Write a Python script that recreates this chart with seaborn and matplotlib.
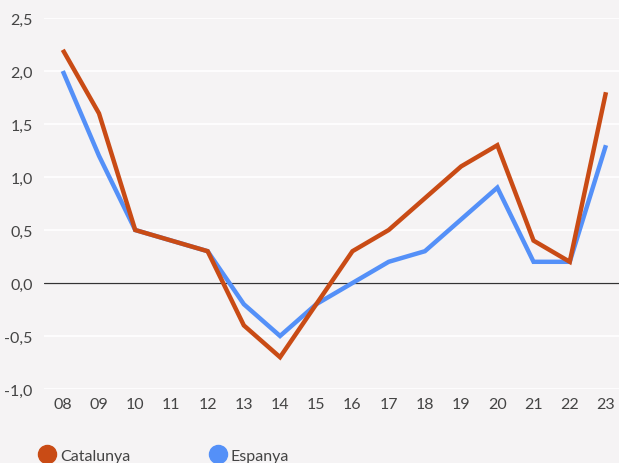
import matplotlib
matplotlib.use("Agg")
import matplotlib.pyplot as plt
import seaborn as sns
import pandas as pd
from matplotlib.lines import Line2D

years = ["08", "09", "10", "11", "12", "13", "14", "15", "16", "17", "18", "19", "20", "21", "22", "23"]
catalunya = [2.2, 1.6, 0.5, 0.4, 0.3, -0.4, -0.7, -0.2, 0.3, 0.5, 0.8, 1.1, 1.3, 0.4, 0.2, 1.8]
espanya = [2.0, 1.2, 0.5, 0.4, 0.3, -0.2, -0.5, -0.2, 0.0, 0.2, 0.3, 0.6, 0.9, 0.2, 0.2, 1.3]
series_names = ["Catalunya", "Espanya"]
colors = ["#C94B15", "#5490F8"]
yticks = [-1.0, -0.5, 0.0, 0.5, 1.0, 1.5, 2.0, 2.5]

sns.set_theme(style="white")
plt.rcParams['font.family'] = ['Lato', 'DejaVu Sans']

df = pd.DataFrame({
    "x": list(range(len(years))) * 2,
    "value": catalunya + espanya,
    "serie": [series_names[0]] * len(years) + [series_names[1]] * len(years),
})

bg = "#F5F3F4"
fig = plt.figure(figsize=(6.19, 4.64), dpi=100, facecolor=bg)
ax = fig.add_axes([0.071, 0.1595, 0.929, 0.7995], facecolor=bg)

for y in yticks:
    ax.axhline(y, color="white", lw=1.2, zorder=0)
ax.axhline(0, color="#333333", lw=0.9, zorder=1)

sns.lineplot(data=df, x="x", y="value", hue="serie", hue_order=series_names,
             palette=colors, lw=3.2, legend=False, ax=ax, sort=False,
             solid_capstyle="butt", solid_joinstyle="miter")
for ln in ax.get_lines():
    if matplotlib.colors.to_hex(ln.get_color()).lower() == colors[0].lower():
        ln.set_zorder(3)

ax.set_xlim(-0.52, 15.36)
ax.set_ylim(-1.0, 2.5)
ax.set_xticks(range(len(years)))
ax.set_xticklabels(years)
ax.set_yticks(yticks)
ax.set_yticklabels([f"{v:.1f}".replace(".", ",") for v in yticks])
ax.tick_params(axis="both", length=0, labelsize=11.5, colors="#444444")
ax.tick_params(axis="x", pad=6)
ax.tick_params(axis="y", pad=8)
for s in ax.spines.values():
    s.set_visible(False)
ax.set_xlabel("")
ax.set_ylabel("")

handles = [Line2D([0], [0], marker="o", color="none", markerfacecolor=c, markeredgecolor=c,
                  markersize=13) for c in colors]
fig.legend(handles, series_names, loc="lower left", bbox_to_anchor=(0.04, -0.03),
           ncol=2, frameon=False, fontsize=11.5, handletextpad=0.3, columnspacing=5.0,
           labelcolor="#444444", handlelength=1.0)

fig.savefig("out.png", dpi=100, facecolor=bg)
